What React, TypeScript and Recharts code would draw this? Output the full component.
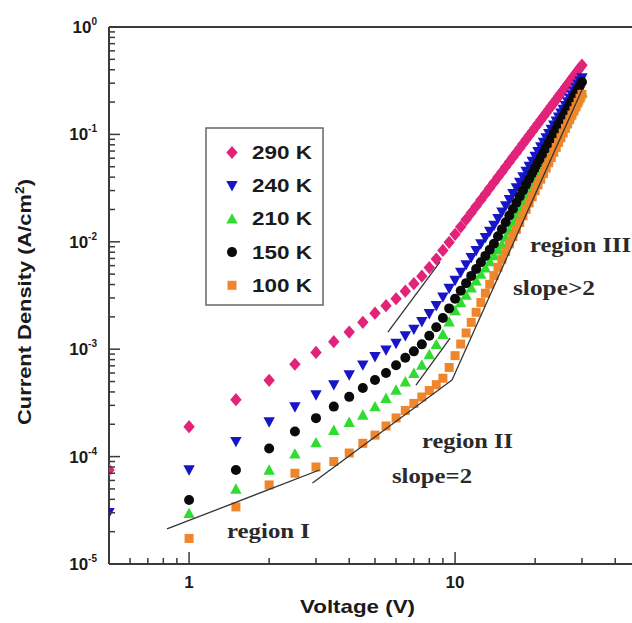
import React from 'react';
import { ScatterChart, Scatter, XAxis, YAxis, ReferenceLine } from 'recharts';

// ---------------- data ----------------
const voltages = [
  0.5, 1, 1.5, 2, 2.5, 3, 3.5, 4, 4.5, 5, 5.5, 6, 6.5, 7, 7.5, 8, 8.5, 9, 9.5, 10,
  10.5, 11, 11.5, 12, 12.5, 13, 13.5, 14, 14.5, 15, 15.5, 16, 16.5, 17, 17.5, 18, 18.5, 19, 19.5, 20,
  20.5, 21, 21.5, 22, 22.5, 23, 23.5, 24, 24.5, 25, 25.5, 26, 26.5, 27, 27.5, 28, 28.5, 29, 29.5, 30,
];

const j290 = [
  7.5e-5, 1.9e-4, 3.39e-4, 5.13e-4, 7.24e-4, 9.33e-4, 1.175e-3, 1.445e-3, 1.778e-3, 2.163e-3,
  2.541e-3, 2.951e-3, 3.467e-3, 4.074e-3, 4.786e-3, 5.754e-3, 6.918e-3, 8.318e-3, 9.886e-3, 1.175e-2,
  1.38e-2, 1.611e-2, 1.862e-2, 2.143e-2, 2.455e-2, 2.793e-2, 3.162e-2, 3.565e-2, 4.009e-2, 4.477e-2,
  4.989e-2, 5.54e-2, 6.138e-2, 6.761e-2, 7.447e-2, 8.175e-2, 8.954e-2, 9.772e-2, 0.1064, 0.1157,
  0.1256, 0.1359, 0.1469, 0.1585, 0.1707, 0.1835, 0.1971, 0.2112, 0.2262, 0.2416,
  0.2579, 0.2751, 0.2928, 0.3116, 0.3308, 0.3514, 0.3722, 0.3944, 0.4172, 0.441,
];

const j240 = [
  3.0e-5, 7.5e-5, 1.38e-4, 2.1e-4, 2.9e-4, 3.75e-4, 4.65e-4, 5.75e-4, 7.1e-4, 8.5e-4,
  9.8e-4, 1.13e-3, 1.33e-3, 1.531e-3, 1.799e-3, 2.138e-3, 2.541e-3, 3.055e-3, 3.673e-3, 4.365e-3,
  5.178e-3, 6.094e-3, 7.12e-3, 8.266e-3, 9.533e-3, 1.093e-2, 1.247e-2, 1.417e-2, 1.64e-2, 1.888e-2,
  2.162e-2, 2.466e-2, 2.803e-2, 3.171e-2, 3.577e-2, 4.023e-2, 4.508e-2, 5.036e-2, 5.605e-2, 6.224e-2,
  6.904e-2, 7.624e-2, 8.406e-2, 9.247e-2, 0.1016, 0.1112, 0.1217, 0.1327, 0.1446, 0.1572,
  0.1706, 0.1851, 0.2001, 0.2165, 0.2334, 0.2518, 0.2707, 0.2911, 0.3125, 0.335,
];

const j210 = [
  null, 2.96e-5, 5.0e-5, 7.5e-5, 1.06e-4, 1.35e-4, 1.758e-4, 2.089e-4, 2.44e-4, 2.92e-4,
  3.49e-4, 4.17e-4, 4.98e-4, 5.97e-4, 7.13e-4, 8.913e-4, 1.109e-3, 1.38e-3, 1.8e-3, 2.291e-3,
  2.718e-3, 3.198e-3, 3.736e-3, 4.337e-3, 5.003e-3, 5.737e-3, 6.548e-3, 7.436e-3, 8.414e-3, 9.471e-3,
  1.104e-2, 1.282e-2, 1.483e-2, 1.704e-2, 1.954e-2, 2.232e-2, 2.539e-2, 2.878e-2, 3.249e-2, 3.66e-2,
  4.114e-2, 4.604e-2, 5.14e-2, 5.728e-2, 6.37e-2, 7.06e-2, 7.816e-2, 8.626e-2, 9.506e-2, 0.1044,
  0.1146, 0.1257, 0.1373, 0.1501, 0.1634, 0.1781, 0.1933, 0.2099, 0.2275, 0.2461,
];

const j150 = [
  null, 3.95e-5, 7.5e-5, 1.19e-4, 1.71e-4, 2.28e-4, 2.92e-4, 3.6e-4, 4.35e-4, 5.17e-4,
  6.0e-4, 7.1e-4, 8.32e-4, 9.55e-4, 1.109e-3, 1.334e-3, 1.603e-3, 1.95e-3, 2.399e-3, 2.951e-3,
  3.501e-3, 4.12e-3, 4.815e-3, 5.587e-3, 6.445e-3, 7.39e-3, 8.433e-3, 9.581e-3, 1.125e-2, 1.312e-2,
  1.522e-2, 1.759e-2, 2.024e-2, 2.317e-2, 2.644e-2, 3.008e-2, 3.407e-2, 3.847e-2, 4.326e-2, 4.856e-2,
  5.436e-2, 6.061e-2, 6.745e-2, 7.491e-2, 8.304e-2, 9.171e-2, 0.1012, 0.1113, 0.1223, 0.134,
  0.1466, 0.1603, 0.1747, 0.1904, 0.2068, 0.2246, 0.2432, 0.2634, 0.2846, 0.3073,
];

const j100 = [
  null, 1.73e-5, 3.4e-5, 5.45e-5, 7.0e-5, 8.0e-5, 9.0e-5, 1.08e-4, 1.33e-4, 1.585e-4,
  1.928e-4, 2.291e-4, 2.692e-4, 3.126e-4, 3.589e-4, 4.121e-4, 4.677e-4, 5.37e-4, 6.761e-4, 8.71e-4,
  1.117e-3, 1.416e-3, 1.777e-3, 2.207e-3, 2.718e-3, 3.318e-3, 4.022e-3, 4.843e-3, 5.796e-3, 6.888e-3,
  8.137e-3, 9.57e-3, 1.12e-2, 1.303e-2, 1.511e-2, 1.746e-2, 2.007e-2, 2.301e-2, 2.624e-2, 2.986e-2,
  3.39e-2, 3.83e-2, 4.317e-2, 4.856e-2, 5.447e-2, 6.089e-2, 6.8e-2, 7.568e-2, 8.414e-2, 9.318e-2,
  0.1031, 0.1139, 0.1254, 0.1381, 0.1515, 0.1662, 0.1817, 0.1987, 0.2168, 0.2361,
];

const seriesLabels = ['290 K', '240 K', '210 K', '150 K', '100 K'];
const seriesValues = [j290, j240, j210, j150, j100];
const seriesColors = ['#E2237A', '#1616C8', '#30DC30', '#0A0A0A', '#F0862C'];
const seriesMarkers = ['diamond', 'triDown', 'triUp', 'circle', 'square'];
const drawOrder = [0, 1, 2, 3, 4];

// fitted guide lines (voltage pair, current-density pair)
const fitV = [[0.826, 3.09], [2.91, 9.74], [9.74, 30], [5.59, 8.78], [7.13, 9.58]];
const fitJ = [[2.12e-5, 7.5e-5], [5.68e-5, 5.16e-4], [5.16e-4, 0.26], [1.445e-3, 6.49e-3], [4.64e-4, 1.27e-3]];

const xTickValues = [0.6, 0.7, 0.8, 0.9, 1, 2, 3, 4, 5, 6, 7, 8, 9, 10, 20, 30, 40];
const xMajorValues = [1, 10];
const xMajorLabels = ['1', '10'];
const yDecades = [1e-5, 1e-4, 1e-3, 1e-2, 1e-1, 1];
const yDecadeExponents = ['-5', '-4', '-3', '-2', '-1', '0'];
const yMinorMultipliers = [2, 3, 4, 5, 6, 7, 8, 9];

const annotations = [
  { text: 'region I', x: 227, y: 538, w: 83 },
  { text: 'region II', x: 422, y: 448, w: 91 },
  { text: 'slope=2', x: 392, y: 483, w: 80 },
  { text: 'region III', x: 530, y: 252, w: 101 },
  { text: 'slope>2', x: 513, y: 295, w: 82 },
];

// ---------------- helpers ----------------
const SANS = "'Liberation Sans', Arial, Helvetica, sans-serif";
const SERIF = "'Liberation Serif', 'Times New Roman', serif";
const AXIS = '#3a3a3a';

const yTickValues: number[] = [];
yDecades.forEach((d, i) => {
  yTickValues.push(d);
  if (i < yDecades.length - 1) yMinorMultipliers.forEach((m) => yTickValues.push(m * d));
});

function marker(kind: string, cx: number, cy: number, color: string) {
  switch (kind) {
    case 'diamond':
      return <path d={`M${cx},${cy - 6.6}L${cx + 5.7},${cy}L${cx},${cy + 6.6}L${cx - 5.7},${cy}Z`} fill={color} />;
    case 'triDown':
      return <path d={`M${cx - 5.7},${cy - 4.7}L${cx + 5.7},${cy - 4.7}L${cx},${cy + 5.7}Z`} fill={color} />;
    case 'triUp':
      return <path d={`M${cx - 5.7},${cy + 4.7}L${cx + 5.7},${cy + 4.7}L${cx},${cy - 5.7}Z`} fill={color} />;
    case 'circle':
      return <circle cx={cx} cy={cy} r={5} fill={color} />;
    default:
      return <rect x={cx - 4.5} y={cy - 4.5} width={9} height={9} fill={color} />;
  }
}

const near = (a: number, b: number) => Math.abs(a - b) / Math.abs(b) < 1e-6;

const XTick = (props: any) => {
  const { x, y, payload } = props;
  const v = payload.value;
  const idx = xMajorValues.findIndex((m) => near(v, m));
  const major = idx >= 0;
  return (
    <g>
      <line x1={x} x2={x} y1={y} y2={y - (major ? 12 : 6)} stroke={AXIS} strokeWidth={1.5} />
      {major && (
        <text x={x} y={y + 24} textAnchor="middle" fontFamily={SANS} fontWeight="bold" fontSize={17} fill="#1a1a1a">
          {xMajorLabels[idx]}
        </text>
      )}
    </g>
  );
};

const YTick = (props: any) => {
  const { x, y, payload } = props;
  const v = payload.value;
  const idx = yDecades.findIndex((d) => near(v, d));
  const major = idx >= 0;
  return (
    <g>
      <line x1={x} x2={x + (major ? 11 : 6)} y1={y} y2={y} stroke={AXIS} strokeWidth={1.5} />
      {major && (
        <text x={x - 12} y={y + 6} textAnchor="end" fontFamily={SANS} fontWeight="bold" fontSize={17} fill="#1a1a1a">
          10
          <tspan dy={-8} fontSize={10}>{yDecadeExponents[idx]}</tspan>
        </text>
      )}
    </g>
  );
};

const Empty = () => <g />;

export default function App() {
  const seriesData = seriesValues.map((vals) =>
    vals
      .map((j, i) => (j == null ? null : { v: voltages[i], j }))
      .filter((p) => p !== null) as { v: number; j: number }[]
  );
  const fitData = fitV.map((vs, k) => vs.map((v, i) => ({ v, j: fitJ[k][i] })));

  return (
    <div style={{ position: 'absolute', left: 0, top: 0, width: 632, height: 623, overflow: 'hidden', background: '#fff' }}>
      <ScatterChart width={660} height={623} margin={{ top: 27, right: 19, bottom: 29, left: 49 }}>
        <XAxis
          type="number"
          dataKey="v"
          scale="log"
          domain={[0.5, 50]}
          allowDataOverflow
          ticks={xTickValues}
          interval={0}
          tick={(p: any) => <XTick {...p} />}
          tickLine={false}
          tickSize={0}
          tickMargin={0}
          height={30}
          axisLine={{ stroke: AXIS, strokeWidth: 2 }}
        />
        <YAxis
          type="number"
          dataKey="j"
          scale="log"
          domain={[1e-5, 1]}
          allowDataOverflow
          ticks={yTickValues}
          interval={0}
          tick={(p: any) => <YTick {...p} />}
          tickLine={false}
          tickSize={0}
          tickMargin={0}
          width={60}
          axisLine={{ stroke: AXIS, strokeWidth: 2 }}
        />
        <ReferenceLine y={1} stroke={AXIS} strokeWidth={2} ifOverflow="visible" />
        <ReferenceLine x={50} stroke={AXIS} strokeWidth={2} ifOverflow="visible" />
        {drawOrder.map((k) => (
          <Scatter
            key={seriesLabels[k]}
            name={seriesLabels[k]}
            data={seriesData[k]}
            fill={seriesColors[k]}
            isAnimationActive={false}
            shape={(p: any) => marker(seriesMarkers[k], p.cx, p.cy, seriesColors[k])}
          />
        ))}
        {fitData.map((pts, k) => (
          <Scatter
            key={'fit' + k}
            data={pts}
            line={{ stroke: '#333', strokeWidth: 1.3 }}
            lineType="joint"
            shape={Empty}
            isAnimationActive={false}
          />
        ))}
      </ScatterChart>
      <svg width={632} height={623} style={{ position: 'absolute', left: 0, top: 0, pointerEvents: 'none' }}>
        {/* legend */}
        <rect x={206} y={128} width={117} height={177} fill="#fff" stroke="#666" strokeWidth={1.5} />
        {seriesLabels.map((lab, i) => {
          const cy = 152.5 + i * 33.2;
          return (
            <g key={lab}>
              {marker(seriesMarkers[i], 232, cy, seriesColors[i])}
              <text x={252} y={cy + 6.5} fontFamily={SANS} fontWeight="bold" fontSize={18} fill="#1a1a1a" textLength={60} lengthAdjust="spacingAndGlyphs">
                {lab}
              </text>
            </g>
          );
        })}
        {/* annotations */}
        {annotations.map((a) => (
          <text key={a.text} x={a.x} y={a.y} fontFamily={SERIF} fontWeight="bold" fontSize={20} fill="#2a2a2a" textLength={a.w} lengthAdjust="spacingAndGlyphs">
            {a.text}
          </text>
        ))}
        {/* axis titles */}
        <text x={300} y={613} fontFamily={SANS} fontWeight="bold" fontSize={19} fill="#1a1a1a" textLength={115} lengthAdjust="spacingAndGlyphs">
          Voltage (V)
        </text>
        <text
          x={0}
          y={0}
          transform="translate(31,302) rotate(-90)"
          textAnchor="middle"
          fontFamily={SANS}
          fontWeight="bold"
          fontSize={19}
          fill="#1a1a1a"
          textLength={246}
          lengthAdjust="spacingAndGlyphs"
        >
          Current Density (A/cm<tspan dy={-7} fontSize={12}>2</tspan><tspan dy={7}>)</tspan>
        </text>
      </svg>
    </div>
  );
}
